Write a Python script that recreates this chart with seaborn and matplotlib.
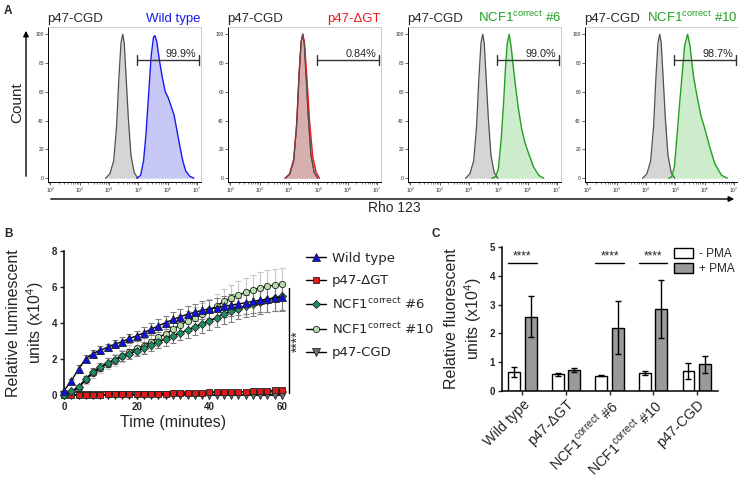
"""
Rebuilds a three-panel figure: Rho 123 flow histograms (A), luminescence
time course (B) and fluorescence bar chart with/without PMA (C).
Saves out.png.
"""

import matplotlib
matplotlib.use("Agg")
import matplotlib.pyplot as plt
import numpy as np
import pandas as pd
import seaborn as sns

sns.set_theme(style="ticks")
plt.rcParams["font.family"] = ["Liberation Sans", "DejaVu Sans"]
plt.rcParams["mathtext.default"] = "regular"

W, H = 738, 478

# ---- panel A: histograms, x = log10(Rho 123), y = % of max ----
cgd_log = [3.88, 4.03, 4.16, 4.26, 4.34, 4.41, 4.47, 4.52, 4.58, 4.66, 4.75, 4.86, 4.98]
cgd_cnt = [0, 3, 12, 36, 70, 94, 100, 94, 72, 42, 16, 4, 0]

wt_log = [4.95, 5.08, 5.18, 5.26, 5.35, 5.44, 5.52, 5.57, 5.63, 5.72, 5.82, 5.92,
          6.02, 6.12, 6.22, 6.32, 6.42, 6.52, 6.62, 6.75, 6.9]
wt_cnt = [0, 2, 12, 30, 57, 85, 98, 99, 95, 82, 70, 60, 56, 50, 44, 33, 22, 12, 5, 1.5, 0]

dgt_log = [3.86, 4.02, 4.16, 4.27, 4.35, 4.42, 4.47, 4.53, 4.61, 4.70, 4.81, 4.93, 5.04]
dgt_cnt = [0, 3, 13, 40, 74, 95, 100, 94, 70, 40, 15, 4, 0]

c6_log = [4.78, 4.9, 5.0, 5.1, 5.18, 5.25, 5.31, 5.37, 5.44, 5.52, 5.6, 5.69,
          5.8, 5.92, 6.04, 6.2, 6.38, 6.55]
c6_cnt = [0, 1, 6, 27, 52, 78, 94, 100, 91, 76, 62, 48, 34, 24, 17, 8, 2, 0]

c10_log = [4.78, 4.88, 4.97, 5.05, 5.14, 5.23, 5.32, 5.42, 5.5, 5.62, 5.76, 5.88,
           6.0, 6.17, 6.35, 6.58, 6.78]
c10_cnt = [0, 1, 8, 27, 50, 71, 92, 100, 92, 71, 55, 43, 35, 22, 10, 2, 0]

hist_labels = ["Wild type", "p47-ΔGT", "NCF1$^{correct}$ #6", "NCF1$^{correct}$ #10"]
hist_logs = [wt_log, dgt_log, c6_log, c10_log]
hist_cnts = [wt_cnt, dgt_cnt, c6_cnt, c10_cnt]
gate_pct = ["99.9%", "0.84%", "99.0%", "98.7%"]
gate_lo, gate_hi, gate_y = 4.96, 7.08, 82

# ---- panel B: luminescence (x10^4) every 2 minutes ----
time_min = list(range(0, 61, 2))
wt_lum = [0.24, 0.78, 1.45, 2.02, 2.3, 2.5, 2.64, 2.83, 2.96, 3.14, 3.29, 3.46, 3.66, 3.85,
          4.02, 4.2, 4.34, 4.49, 4.6, 4.7, 4.78, 4.86, 4.93, 4.99, 5.06, 5.13, 5.2, 5.27,
          5.33, 5.39, 5.44]
wt_sd = [0.05, 0.12, 0.22, 0.2, 0.2, 0.2, 0.22, 0.22, 0.25, 0.25, 0.28, 0.3, 0.33, 0.35,
         0.38, 0.4, 0.42, 0.45, 0.48, 0.5, 0.52, 0.55, 0.58, 0.6, 0.62, 0.64, 0.66, 0.68,
         0.7, 0.72, 0.75]
dgt_lum = [0.0, 0.0, 0.01, 0.01, 0.02, 0.02, 0.03, 0.03, 0.04, 0.05, 0.05, 0.06, 0.07, 0.07,
           0.08, 0.09, 0.1, 0.11, 0.12, 0.13, 0.14, 0.15, 0.16, 0.17, 0.18, 0.19, 0.21, 0.22,
           0.24, 0.26, 0.28]
dgt_sd = [0.01, 0.01, 0.01, 0.01, 0.02, 0.02, 0.02, 0.02, 0.03, 0.03, 0.03, 0.03, 0.04, 0.04,
          0.04, 0.04, 0.05, 0.05, 0.05, 0.05, 0.06, 0.06, 0.06, 0.06, 0.07, 0.07, 0.07, 0.07,
          0.08, 0.08, 0.08]
c6_lum = [0.0, 0.2, 0.45, 0.9, 1.3, 1.55, 1.8, 1.96, 2.15, 2.3, 2.45, 2.6, 2.76, 2.95, 3.12,
          3.3, 3.45, 3.6, 3.8, 3.95, 4.1, 4.3, 4.5, 4.66, 4.8, 4.95, 5.05, 5.16, 5.3, 5.4, 5.5]
c6_sd = [0.02, 0.08, 0.12, 0.18, 0.2, 0.22, 0.24, 0.25, 0.27, 0.28, 0.3, 0.32, 0.34, 0.36,
         0.38, 0.4, 0.42, 0.44, 0.46, 0.48, 0.5, 0.52, 0.55, 0.58, 0.6, 0.62, 0.65, 0.68,
         0.7, 0.72, 0.75]
c10_lum = [0.0, 0.15, 0.4, 0.85, 1.2, 1.5, 1.75, 1.95, 2.15, 2.4, 2.6, 2.75, 2.95, 3.2, 3.4,
           3.65, 3.9, 4.1, 4.3, 4.5, 4.7, 4.95, 5.2, 5.4, 5.55, 5.7, 5.85, 5.95, 6.05, 6.1, 6.15]
c10_sd = [0.02, 0.1, 0.15, 0.22, 0.25, 0.28, 0.3, 0.32, 0.34, 0.36, 0.38, 0.4, 0.42, 0.45,
          0.48, 0.5, 0.52, 0.55, 0.58, 0.6, 0.63, 0.66, 0.7, 0.73, 0.76, 0.8, 0.83, 0.86,
          0.88, 0.9, 0.92]
cgd_lum = [0.0, 0.01, 0.01, 0.01, 0.01, 0.01, 0.02, 0.02, 0.02, 0.02, 0.02, 0.02, 0.02, 0.02,
           0.02, 0.02, 0.02, 0.02, 0.02, 0.02, 0.02, 0.02, 0.02, 0.02, 0.02, 0.02, 0.02, 0.02,
           0.02, 0.02, 0.02]
cgd_sd = [0.01] * 31

lum_labels = ["Wild type", "p47-ΔGT", "NCF1$^{correct}$ #6", "NCF1$^{correct}$ #10", "p47-CGD"]
lum_means = [wt_lum, dgt_lum, c6_lum, c10_lum, cgd_lum]
lum_sds = [wt_sd, dgt_sd, c6_sd, c10_sd, cgd_sd]

# ---- panel C: fluorescence (x10^4) ----
cell_lines = ["Wild type", "p47-ΔGT", "NCF1$^{correct}$ #6", "NCF1$^{correct}$ #10", "p47-CGD"]
minus_pma = [0.65, 0.58, 0.53, 0.61, 0.68]
minus_sd = [0.18, 0.05, 0.02, 0.07, 0.28]
plus_pma = [2.58, 0.73, 2.2, 2.85, 0.93]
plus_sd = [0.72, 0.07, 0.92, 1.0, 0.3]
signif_groups = [0, 2, 3]
signif_y = 4.43


def box(l, t, r, b):
    return [l / W, 1 - b / H, (r - l) / W, (b - t) / H]


def fx(x):
    return x / W


def fy(y):
    return 1 - y / H


fig = plt.figure(figsize=(W / 100, H / 100), dpi=100)

# ================= A =================
hist_lefts = [48, 228, 408, 585]
hist_width = 153
hist_line = ["#1a1aee", "#ee1a1a", "#23a023", "#23a023"]
hist_fill = ["#c8c8f6", "#d9a3a3", "#cdeccb", "#cdeccb"]
hist_alpha = [1.0, 0.75, 1.0, 1.0]

for i, left in enumerate(hist_lefts):
    ax = fig.add_axes(box(left, 27, left + hist_width, 181.7))
    ax.set_xscale("log")
    gx = 10 ** np.array(cgd_log)
    ax.fill_between(gx, cgd_cnt, color="#d5d5d5", lw=0)
    sns.lineplot(x=gx, y=cgd_cnt, color="#505050", lw=0.9, sort=False, ax=ax)
    sx = 10 ** np.array(hist_logs[i])
    ax.fill_between(sx, hist_cnts[i], color=hist_fill[i], alpha=hist_alpha[i], lw=0)
    sns.lineplot(x=sx, y=hist_cnts[i], color=hist_line[i], lw=1.0, sort=False, ax=ax)
    if i == 1:
        sns.lineplot(x=gx, y=cgd_cnt, color="#505050", lw=0.7, sort=False, ax=ax)

    ax.plot([10 ** gate_lo, 10 ** gate_hi], [gate_y, gate_y], color="#333333", lw=1)
    for g in (gate_lo, gate_hi):
        ax.plot([10 ** g, 10 ** g], [gate_y - 3.5, gate_y + 3.5], color="#333333", lw=1)
    ax.text(10 ** 6.98, gate_y + 0.5, gate_pct[i], ha="right", va="bottom",
            fontsize=7.8, color="#222222")

    ax.set_xlim(10 ** 1.92, 10 ** 7.14)
    ax.set_ylim(-2.4, 105)
    ax.set_yticks([0, 20, 40, 60, 80, 100])
    ax.set_xticks([10 ** k for k in range(2, 8)])
    ax.tick_params(labelsize=3.5, length=2, width=0.5, pad=1)
    ax.tick_params(which="minor", length=1.3, width=0.4)
    ax.set_xlabel("")
    ax.set_ylabel("")
    for s in ("top", "right"):
        ax.spines[s].set_color("#c4c4c4")
        ax.spines[s].set_linewidth(0.6)
    for s in ("left", "bottom"):
        ax.spines[s].set_color("black")
        ax.spines[s].set_linewidth(0.7)

    fig.text(fx(left - 1), fy(22), "p47-CGD", ha="left", va="baseline", fontsize=9.5)
    fig.text(fx(left + hist_width), fy(22), hist_labels[i], ha="right", va="baseline",
             fontsize=9.5, color=hist_line[i])

fig.text(fx(4), fy(11), "A", fontsize=8.5, fontweight="bold", va="center")
fig.text(fx(17), fy(103), "Count", rotation=90, ha="center", va="center", fontsize=11)
fig.add_artist(matplotlib.patches.FancyArrowPatch(
    (fx(26), fy(179)), (fx(26), fy(28)), transform=fig.transFigure,
    arrowstyle="-|>", mutation_scale=8, color="black", lw=1))
fig.add_artist(matplotlib.patches.FancyArrowPatch(
    (fx(48), fy(199)), (fx(737), fy(199)), transform=fig.transFigure,
    arrowstyle="-|>", mutation_scale=8, color="black", lw=1))
fig.text(fx(394), fy(208), "Rho 123", ha="center", va="center", fontsize=10)

# ================= B =================
axb = fig.add_axes(box(64, 251, 282, 395))
lum_colors = ["#1010e0", "#e01818", "#1f8f62", "#b5e0a8", "#707070"]
lum_markers = ["^", "s", "D", "o", "v"]
lum_msize = [5.5, 4.5, 4.2, 4.5, 5.5]
lum_ecolor = ["#808080", "#808080", "#808080", "#c8c8c8", "#808080"]
draw_order = [4, 1, 3, 2, 0]

for k in draw_order:
    axb.errorbar(time_min, lum_means[k], yerr=lum_sds[k], fmt="none",
                 ecolor=lum_ecolor[k], elinewidth=0.8, capsize=2, capthick=0.8,
                 clip_on=False, zorder=1)

handles = {}
for k in draw_order:
    sns.lineplot(x=time_min, y=lum_means[k], color="black", lw=1, marker=lum_markers[k],
                 markersize=lum_msize[k], markerfacecolor=lum_colors[k],
                 markeredgecolor="#222222", markeredgewidth=0.6, clip_on=False,
                 ax=axb, zorder=3)
    handles[k] = axb.lines[-1]

axb.set_xlim(0, 60)
axb.set_ylim(0, 8)
axb.set_xticks([0, 20, 40, 60])
axb.set_yticks([0, 2, 4, 6, 8])
axb.tick_params(labelsize=7, length=3, width=1, pad=2)
for lbl in axb.get_xticklabels() + axb.get_yticklabels():
    lbl.set_fontweight("bold")
for s in ("left", "bottom"):
    axb.spines[s].set_linewidth(1.1)
    axb.spines[s].set_color("black")
sns.despine(ax=axb)
axb.set_xlabel("Time (minutes)", fontsize=11.5, labelpad=2)
axb.set_ylabel("Relative luminescent\nunits (x10$^4$)", fontsize=11.5, labelpad=4)

axb.plot([61.9, 61.9], [0.1, 5.94], color="black", lw=1, clip_on=False)
axb.text(64.2, 3.0, "****", rotation=90, ha="center", va="center", fontsize=10)

axb.legend([handles[k] for k in range(5)], lum_labels, loc="upper left",
           bbox_to_anchor=(fx(306), fy(252)), bbox_transform=fig.transFigure,
           frameon=False, prop={"family": "DejaVu Sans", "size": 9.5},
           handlelength=1.5, handletextpad=0.45, labelspacing=0.7, borderaxespad=0,
           borderpad=0)
fig.text(fx(4), fy(234), "B", fontsize=8.5, fontweight="bold", va="center")

# ================= C =================
axc = fig.add_axes(box(502, 247, 718, 391))
df = pd.DataFrame({
    "line": cell_lines * 2,
    "pma": ["- PMA"] * 5 + ["+ PMA"] * 5,
    "value": minus_pma + plus_pma,
})
sns.barplot(data=df, x="line", y="value", hue="pma",
            palette={"- PMA": "white", "+ PMA": "#9a9a9a"},
            edgecolor="black", linewidth=1, width=0.75, gap=0.27,
            errorbar=None, ax=axc)

for container, sds in zip(axc.containers, [minus_sd, plus_sd]):
    for bar, s in zip(container, sds):
        xc = bar.get_x() + bar.get_width() / 2
        axc.errorbar(xc, bar.get_height(), yerr=s, fmt="none", ecolor="black",
                     elinewidth=1, capsize=2.5, capthick=1, zorder=3)

for g in signif_groups:
    b0 = axc.containers[0][g]
    b1 = axc.containers[1][g]
    x0 = b0.get_x()
    x1 = b1.get_x() + b1.get_width()
    axc.plot([x0, x1], [signif_y, signif_y], color="black", lw=1)
    axc.text((x0 + x1) / 2, signif_y + 0.02, "****", ha="center", va="bottom", fontsize=8.5)

axc.set_xlim(-0.47, 4.49)
axc.set_ylim(0, 5)
axc.set_yticks([0, 1, 2, 3, 4, 5])
axc.set_xticks(range(5))
axc.set_xticklabels(cell_lines, rotation=45, ha="right", rotation_mode="anchor",
                    fontsize=10.3)
axc.tick_params(axis="y", labelsize=7, length=3, width=1, pad=2)
axc.tick_params(axis="x", length=3, width=1, pad=1.5)
for lbl in axc.get_yticklabels():
    lbl.set_fontweight("bold")
for s in ("left", "bottom"):
    axc.spines[s].set_linewidth(1.1)
    axc.spines[s].set_color("black")
sns.despine(ax=axc)
axc.set_xlabel("")
axc.set_ylabel("Relative fluorescent\nunits (x10$^4$)", fontsize=11.5, labelpad=4)
axc.legend(loc="upper left", bbox_to_anchor=(fx(674), fy(248)),
           bbox_transform=fig.transFigure, frameon=False, fontsize=8.5,
           handlelength=1.6, handleheight=0.9, handletextpad=0.5, labelspacing=0.25,
           borderaxespad=0, borderpad=0)
fig.text(fx(432), fy(234), "C", fontsize=8.5, fontweight="bold", va="center")

fig.savefig("out.png", dpi=100)
